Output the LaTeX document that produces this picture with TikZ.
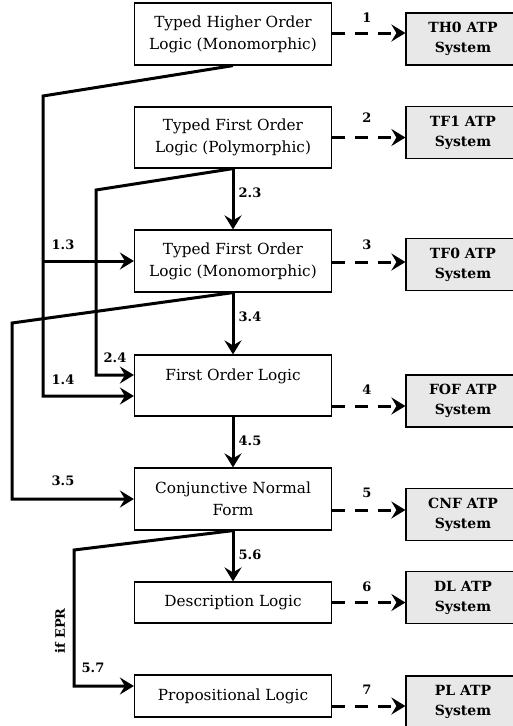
\documentclass[tikz,border=0pt]{standalone}
\usepackage{fontspec}
\setmainfont{DejaVu Serif}
\usetikzlibrary{arrows.meta}

\begin{document}
\begin{tikzpicture}[x=1pt,y=-1pt]
			\tikzstyle{logic} = [draw, line width=1.2pt, minimum width=197pt, inner sep=0pt, align=center, font=\fontsize{15.3}{22}\selectfont]
			\tikzstyle{atp} = [draw, line width=1.2pt, fill=gray!18, minimum width=114pt, minimum height=52pt, inner sep=0pt, align=center, font=\fontsize{14}{20}\selectfont\bfseries]
			\tikzstyle{es} = [line width=3pt, -{Stealth[length=14pt,width=17pt,inset=5pt]}]
			\tikzstyle{ds} = [es, dash pattern=on 13pt off 10pt]
			\tikzstyle{lab} = [font=\fontsize{13}{16}\selectfont\bfseries, inner sep=0pt]
			\clip (0,0) rectangle (513,726);
			% logics
			\node [logic, minimum height=62pt] (thl) at (233,34) {Typed Higher Order\\Logic (Monomorphic)};
			\node [logic, minimum height=61pt] (tf1l) at (233,137.5) {Typed First Order\\Logic (Polymorphic)};
			\node [logic, minimum height=62pt] (tf0l) at (233,261) {Typed First Order\\Logic (Monomorphic)};
			\node [logic, minimum height=61pt] (fol) at (233,385.5) {First Order Logic\\~};
			\node [logic, minimum height=62pt] (cnf) at (233,499) {Conjunctive Normal\\Form};
			\node [logic, minimum height=41pt] (dl) at (233,602.5) {Description Logic};
			\node [logic, minimum height=42pt] (pl) at (233,696) {Propositional Logic};
			% systems
			\node [atp] (th0) at (463,39) {TH0 ATP\\System};
			\node [atp] (tf1) at (463,132.5) {TF1 ATP\\System};
			\node [atp] (tf0) at (463,264.5) {TF0 ATP\\System};
			\node [atp] (fof) at (463,401) {FOF ATP\\System};
			\node [atp] (cnfs) at (463,514.5) {CNF ATP\\System};
			\node [atp] (dls) at (463,597.5) {DL ATP\\System};
			\node [atp] (pls) at (463,702) {PL ATP\\System};
			\draw [ds] ([yshift=1pt]thl.east) -- ([yshift=1pt]thl.east -| th0.west);
			\draw [ds] (tf1l.east) -- (tf1l.east -| tf1.west);
			\draw [ds] ([yshift=-1pt]tf0l.east) -- ([yshift=-1pt]tf0l.east -| tf0.west);
			\draw [ds] ([yshift=-20.5pt]fol.east) -- ([yshift=-20.5pt]fol.east -| fof.west);
			\draw [ds] ([yshift=-11pt]cnf.east) -- ([yshift=-11pt]cnf.east -| cnfs.west);
			\draw [ds] (dl.east) -- (dl.east -| dls.west);
			\draw [ds] ([yshift=-10pt]pl.east) -- ([yshift=-10pt]pl.east -| pls.west);
			\node [lab] (n1) at (367,18) {1};
			\node [lab] (n2) at (367,118) {2};
			\node [lab] (n3) at (367,245) {3};
			\node [lab] (n4) at (367,390) {4};
			\node [lab] (n5) at (367,493) {5};
			\node [lab] (n6) at (367,587) {6};
			\node [lab] (n7) at (367,690) {7};
			% translations
			\coordinate (k1) at (43,96);
			\coordinate (k2) at (96,190);
			\coordinate (k3) at (12,323);
			\coordinate (k5) at (74,550);
			\draw [es] (thl.south) -- (k1) |- ([yshift=-10.5pt]fol.west);
			\draw [es] (k1 |- tf0l.west) -- (tf0l.west);
			\draw [es] (tf1l.south) -- (tf0l.north);
			\draw [es] (tf1l.south) -- (k2) |- ([yshift=10.5pt]fol.west);
			\draw [es] (tf0l.south) -- (fol.north);
			\draw [es] (tf0l.south) -- (k3) |- (cnf.west);
			\draw [es] (fol.south) -- (cnf.north);
			\draw [es] (cnf.south) -- (dl.north);
			\draw [es] (cnf.south) -- (k5) |- ([yshift=10pt]pl.west);
			\node [lab] (n13) at (63,245) {1.3};
			\node [lab] (n14) at (63,380) {1.4};
			\node [lab] (n23) at (250,193) {2.3};
			\node [lab] (n24) at (115,358) {2.4};
			\node [lab] (n34) at (250,317) {3.4};
			\node [lab] (n35) at (63,481) {3.5};
			\node [lab] (n45) at (250,441) {4.5};
			\node [lab] (n56) at (250,555) {5.6};
			\node [lab] (n57) at (93,668) {5.7};
			\node [lab, rotate=90] (epr) at (60,631) {if EPR};
		\end{tikzpicture}
\end{document}
